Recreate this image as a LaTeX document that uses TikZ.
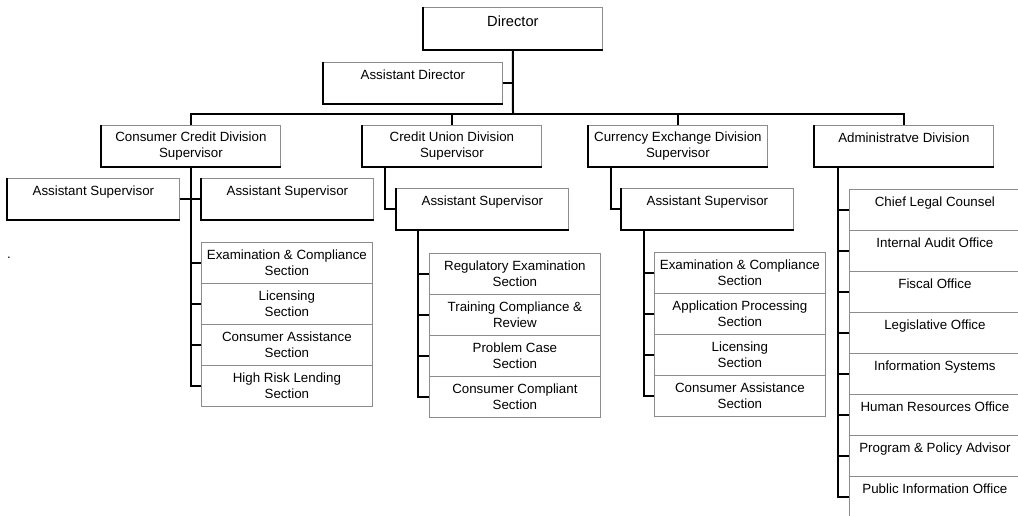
\documentclass[tikz,border=0pt]{standalone}
\usepackage{fontspec}
\setmainfont{Liberation Sans}
\usepackage{tikz}
\definecolor{boxgray}{RGB}{140, 140, 140}
\tikzset{
    unit/.style={draw=boxgray, line width=0.6pt, fill=white, anchor=north west, inner xsep=2pt, inner ysep=0pt, font=\fontsize{10}{12}\selectfont},
    oneline/.style={text height=12.75pt, text depth=18pt},
    twoline/.style={align=center, minimum height=30.75pt},
    head/.style={unit, minimum width=134.25pt},
    asst/.style={unit, oneline, minimum width=129pt},
    sect/.style={unit, minimum width=128.25pt},
    link/.style={line width=1.5pt, black},
    shadeedge/.style={line width=1.5pt, black}
}

\begin{document}
\begin{tikzpicture}[x=0.75pt, y=-0.75pt]
        \path[use as bounding box, clip] (0,0) rectangle (1018,516);

        % Director and assistant
        \node[head, text height=14.25pt, text depth=17.25pt, font=\fontsize{11}{13}\selectfont] (dir) at (423,7) {Director};
        \node[head, oneline] (adir) at (323,62) {Assistant Director};

        % Divisions
        \node[head, twoline] (ccd) at (101,125) {Consumer Credit Division\\Supervisor};
        \node[head, twoline] (cud) at (362,125) {Credit Union Division\\Supervisor};
        \node[head, twoline] (ced) at (588,125) {Currency Exchange Division\\Supervisor};
        \node[head, oneline] (adm) at (814,125) {Administratve Division};

        % Assistant supervisors
        \node[asst] (ccl) at (7,178) {Assistant Supervisor};
        \node[asst] (ccr) at (201,178) {Assistant Supervisor};
        \node[asst] (cua) at (396,188) {Assistant Supervisor};
        \node[asst] (cea) at (621,188) {Assistant Supervisor};

        % Sections
        \foreach \t [count=\i] in {{Examination \& Compliance\\Section}, {Licensing\\Section}, {Consumer Assistance\\Section}, {High Risk Lending\\Section}}
            \node[sect, twoline] (cc\i) at (201,{242+41*(\i-1)}) {\t};
        \foreach \t [count=\i] in {{Regulatory Examination\\Section}, {Training Compliance \&\\Review}, {Problem Case\\Section}, {Consumer Compliant\\Section}}
            \node[sect, twoline] (cu\i) at (429,{253+41*(\i-1)}) {\t};
        \foreach \t [count=\i] in {{Examination \& Compliance\\Section}, {Application Processing\\Section}, {Licensing\\Section}, {Consumer Assistance\\Section}}
            \node[sect, twoline] (ce\i) at (654,{252+41*(\i-1)}) {\t};
        \foreach \t [count=\i] in {Chief Legal Counsel, Internal Audit Office, Fiscal Office, Legislative Office, Information Systems, Human Resources Office, Program \& Policy Advisor, Public Information Office}
            \node[sect, oneline] (ad\i) at (849,{189+41*(\i-1)}) {\t};

        \node[font=\fontsize{10}{12}\selectfont] (dot) at (9,258) {.};

        % Box shadows
        \foreach \n in {dir, adir, ccd, cud, ced, adm, ccl, ccr, cua, cea}
            \draw[shadeedge] (\n.north west) -- (\n.south west) -- (\n.south east);

        % Top links
        \coordinate (bus) at (513,114);
        \draw[link] (dir.south) -- (bus);
        \draw[link] (adir.east) -- (adir.east -| bus);
        \draw[link] (ccd.north) |- (bus) -| (adm.north);
        \draw[link] (cud.north) -- (cud.north |- bus);
        \draw[link] (ced.north) -- (ced.north |- bus);

        % Consumer credit
        \draw[link] (ccd.south) |- (cc4.west);
        \draw[link] (ccl.east) -- (ccr.west);
        \foreach \i in {1,2,3}
            \draw[link] (cc\i.west) -- (cc\i.west -| ccd.south);

        % Credit union
        \coordinate (cuk) at ([xshift=17.25pt]cud.south west);
        \coordinate (cut) at ([xshift=16.5pt]cua.south west);
        \draw[link] (cuk) |- (cua.west);
        \draw[link] (cut) |- (cu4.west);
        \foreach \i in {1,2,3}
            \draw[link] (cu\i.west) -- (cu\i.west -| cut);

        % Currency exchange
        \coordinate (cek) at ([xshift=17.25pt]ced.south west);
        \coordinate (cet) at ([xshift=17.25pt]cea.south west);
        \draw[link] (cek) |- (cea.west);
        \draw[link] (cet) |- (ce4.west);
        \foreach \i in {1,2,3}
            \draw[link] (ce\i.west) -- (ce\i.west -| cet);

        % Administrative
        \coordinate (adk) at ([xshift=18pt]adm.south west);
        \draw[link] (adk) |- (ad8.west);
        \foreach \i in {1,...,7}
            \draw[link] (ad\i.west) -- (ad\i.west -| adk);

    \end{tikzpicture}
\end{document}
